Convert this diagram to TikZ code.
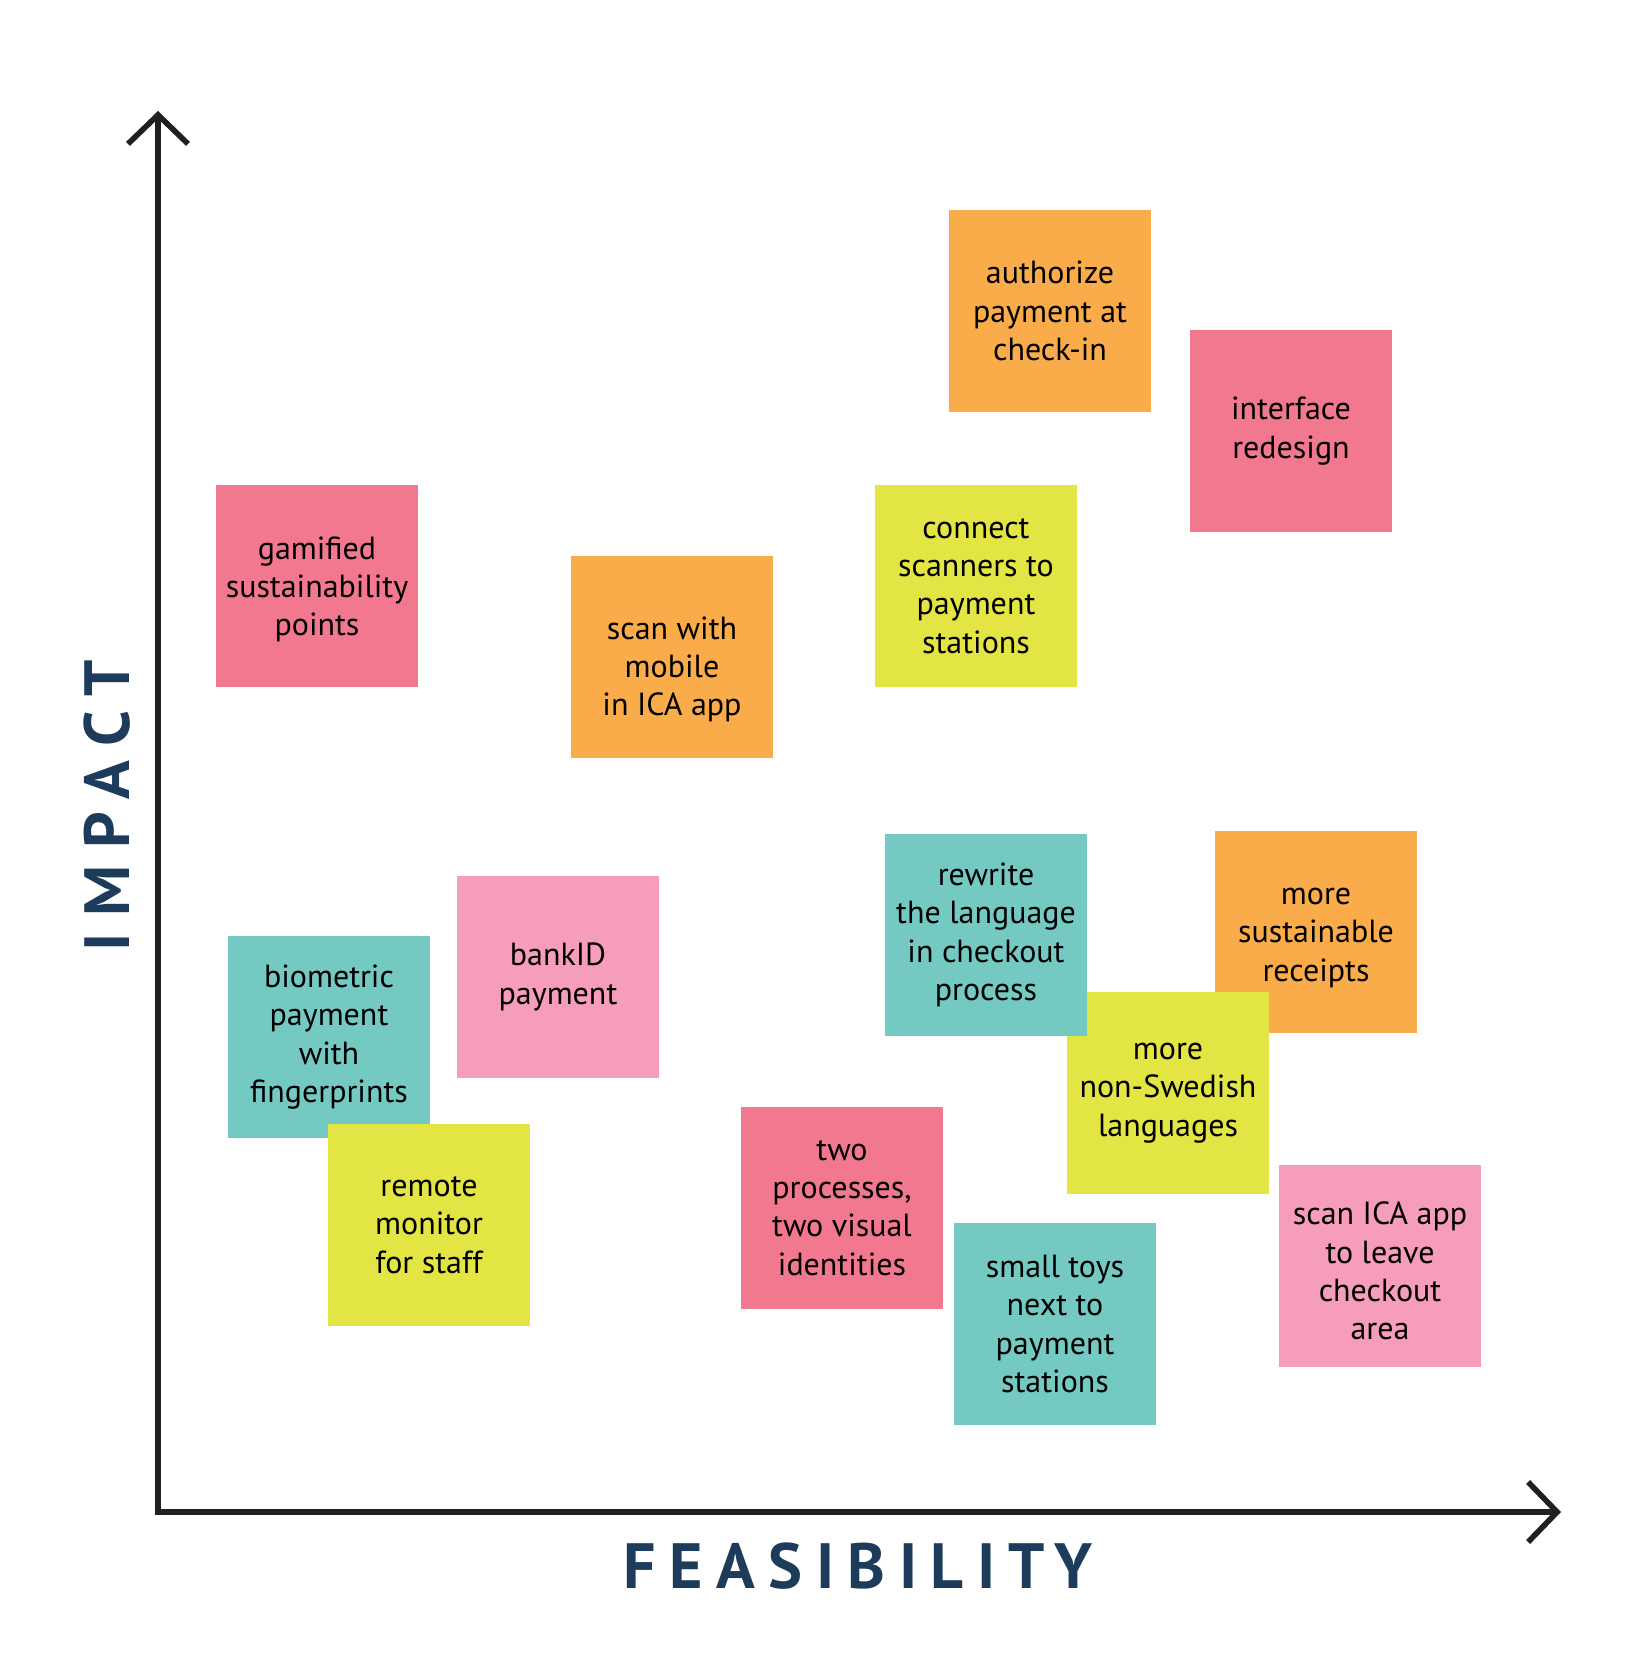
\documentclass[tikz,border=0pt]{standalone}
\usepackage{fontspec}
\setmainfont{PT Sans}
\usetikzlibrary{arrows.meta}

\definecolor{noteorange}{RGB}{250,172,75}
\definecolor{notered}{RGB}{242,120,143}
\definecolor{notepink}{RGB}{245,157,186}
\definecolor{noteyellow}{RGB}{227,229,69}
\definecolor{noteteal}{RGB}{116,202,195}
\definecolor{axisblue}{RGB}{29,60,92}
\definecolor{axisblack}{RGB}{35,31,32}

\begin{document}
\begin{tikzpicture}[x=1pt, y=-1pt,
    note/.style={minimum width=202pt, minimum height=202pt, inner sep=0pt,
      align=center, font=\fontsize{32}{38.4}\selectfont},
    % pushes the lines of a note down a little
    lowtext/.style={execute at begin node={\rule{0pt}{#1}}},
    axislabel/.style={text=axisblue, inner sep=0pt,
      font=\fontsize{64}{70}\selectfont\bfseries\addfontfeature{LetterSpace=#1}},
    axis/.style={draw=axisblack, line width=5.6pt, line join=miter,
      {Straight Barb[sharp, length=29pt, width=60pt]}-{Straight Barb[sharp, length=29pt, width=60pt]}}]
    \useasboundingbox (0,0) rectangle (1644,1672);

    % axes
    \coordinate (origin) at (158,1512);
    \coordinate (ytop) at (158,111);
    \coordinate (xend) at (1561,1512);
    \draw[axis] (ytop) -- (origin) -- (xend);

    \node (impact) [axislabel=26.5, rotate=90] at (107,806) {IMPACT};
    \node (feasibility) [axislabel=21] at (858,1566) {FEASIBILITY};

    % high impact
    \node (authorize) [note, fill=noteorange] at (1050,311) {authorize\\payment at\\check-in};
    \node (interface) [note, fill=notered] at (1291,431) {interface\\redesign};
    \node (connect) [note, fill=noteyellow] at (976,586) {connect\\scanners to\\payment\\stations};
    \node (gamified) [note, fill=notered, lowtext=106pt] at (317,586) {gamified\\sustainability\\points};
    \node (scanmobile) [note, fill=noteorange, lowtext=124pt] at (672,657) {scan with\\mobile\\in ICA app};

    % low impact
    \node (receipts) [note, fill=noteorange, lowtext=105pt] at (1316,932) {more\\sustainable\\receipts};
    \node (nonswedish) [note, fill=noteyellow] at (1168,1093) {more\\non-Swedish\\languages};
    \node (rewrite) [note, fill=noteteal] at (986,935) {rewrite\\the language\\in checkout\\process};
    \node (bankid) [note, fill=notepink] at (558,977) {bankID\\payment};
    \node (biometric) [note, fill=noteteal] at (329,1037) {biometric\\payment\\with\\fingerprints};
    \node (remote) [note, fill=noteyellow] at (429,1225) {remote\\monitor\\for staff};
    \node (twoproc) [note, fill=notered] at (842,1208) {two\\processes,\\two visual\\identities};
    \node (toys) [note, fill=noteteal] at (1055,1324) {small toys\\next to\\payment\\stations};
    \node (scanica) [note, fill=notepink, lowtext=148pt] at (1380,1266) {scan ICA app\\to leave\\checkout\\area};
  \end{tikzpicture}
\end{document}
